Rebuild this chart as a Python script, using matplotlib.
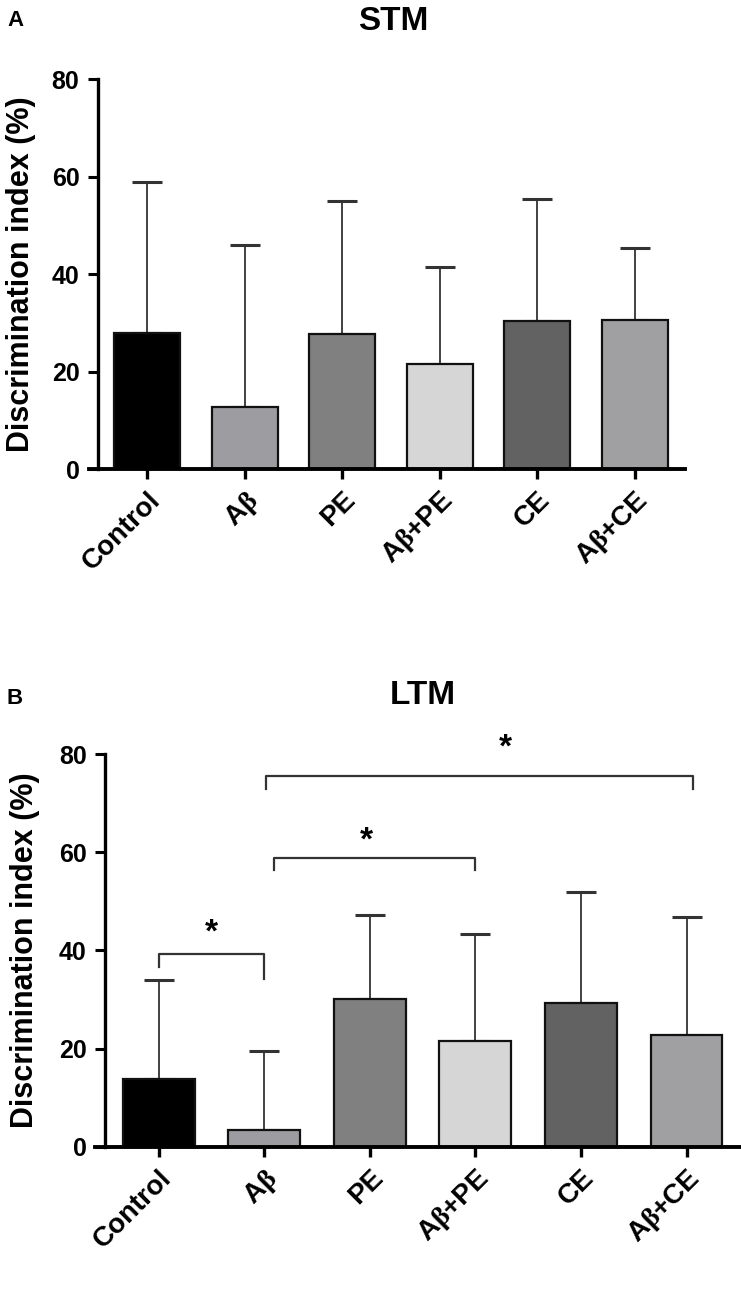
import matplotlib
matplotlib.use('Agg')
import matplotlib.pyplot as plt
import numpy as np

plt.rcParams['font.family'] = ['Liberation Sans', 'DejaVu Sans']
plt.rcParams['font.weight'] = 'bold'
plt.rcParams['mathtext.fontset'] = 'custom'
plt.rcParams['mathtext.rm'] = 'Liberation Serif'
plt.rcParams['mathtext.it'] = 'Liberation Serif:italic'

groups = ['Control', r'A$\mathrm{\beta}$', 'PE', r'A$\mathrm{\beta}$+PE', 'CE', r'A$\mathrm{\beta}$+CE']
colors = ['#000000', '#9d9da1', '#808080', '#d6d6d6', '#626262', '#a0a0a3']

stm_mean = [28.0, 12.7, 27.8, 21.6, 30.3, 30.5]
stm_sd = [30.9, 33.3, 27.1, 19.8, 25.1, 14.9]

ltm_mean = [13.8, 3.5, 30.1, 21.6, 29.4, 22.7]
ltm_sd = [20.1, 16.0, 17.2, 21.7, 22.6, 24.1]

# significance brackets for LTM: (x1, x2, bar_y, leg1_y, leg2_y, star_x, star_y)
ltm_sig = [
    (0.0, 1.0, 39.3, 36.6, 34.2, 0.5, 43.6),
    (1.09, 3.0, 58.8, 56.3, 56.3, 1.97, 62.3),
    (1.02, 5.06, 75.5, 72.9, 72.9, 3.28, 81.2),
]

fig = plt.figure(figsize=(7.41, 13.0), dpi=100)


def draw_panel(ax, means, sds):
    x = np.arange(len(means))
    ax.bar(x, means, width=0.68, color=colors, edgecolor='#111111', linewidth=1.6, zorder=2)
    ax.errorbar(x, means, yerr=[np.zeros(len(sds)), sds], fmt='none', ecolor='#333333',
                elinewidth=1.3, capsize=11, capthick=2.2, zorder=1)
    ax.set_xlim(-0.60, 5.52)
    ax.set_ylim(0, 80)
    ax.set_yticks([0, 20, 40, 60, 80])
    ax.set_xticks(x)
    ax.set_xticklabels(groups, rotation=45, ha='right', rotation_mode='anchor')
    for s in ['top', 'right']:
        ax.spines[s].set_visible(False)
    ax.spines['left'].set_position(('data', -0.51))
    ax.spines['left'].set_linewidth(2.4)
    ax.spines['bottom'].set_linewidth(2.8)
    ax.tick_params(axis='y', length=7, width=2.2, labelsize=18, pad=6)
    ax.tick_params(axis='x', length=7, width=2.4, labelsize=20, pad=6)
    for lab in ax.get_xticklabels() + ax.get_yticklabels():
        lab.set_fontweight('bold')
    ax.set_ylabel('Discrimination index (%)', fontsize=22, fontweight='bold')


ax1 = fig.add_axes([0.1198, 0.6392, 0.8053, 0.300])
draw_panel(ax1, stm_mean, stm_sd)
ax1.yaxis.set_label_coords(-0.088, 0.5)

ax2 = fig.add_axes([0.1286, 0.1177, 0.872, 0.3023])
draw_panel(ax2, ltm_mean, ltm_sd)
ax2.yaxis.set_label_coords(-0.086, 0.5)

for x1, x2, y, l1, l2, sx, sy in ltm_sig:
    ax2.plot([x1, x1, x2, x2], [l1, y, y, l2], color='#333333', linewidth=1.6,
             clip_on=False, zorder=3)
    ax2.text(sx, sy, '*', fontsize=24, fontweight='bold', ha='center', va='center',
             clip_on=False)

fig.text(393 / 741, 1 - 22 / 1300, 'STM', fontsize=24, fontweight='bold', ha='center', va='center')
fig.text(423 / 741, 1 - 695 / 1300, 'LTM', fontsize=24, fontweight='bold', ha='center', va='center')
fig.text(15 / 741, 1 - 20 / 1300, 'A', fontsize=16, fontweight='bold', ha='center', va='center')
fig.text(15 / 741, 1 - 698 / 1300, 'B', fontsize=16, fontweight='bold', ha='center', va='center')

fig.savefig('out.png', dpi=100)
